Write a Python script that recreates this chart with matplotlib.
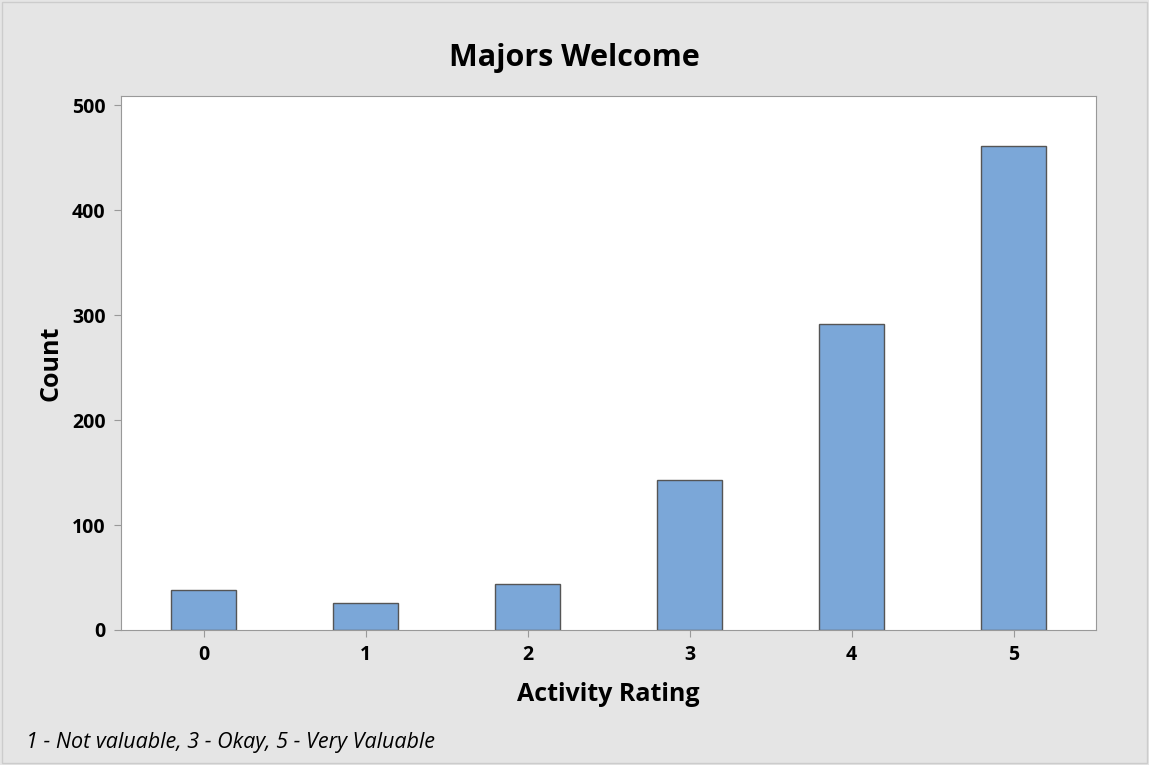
import matplotlib
matplotlib.use("Agg")
import matplotlib.pyplot as plt

# Activity rating counts
ratings = [0, 1, 2, 3, 4, 5]
counts = [38, 26, 44, 143, 292, 461]
yticks = [0, 100, 200, 300, 400, 500]

plt.rcParams['font.family'] = ['Open Sans', 'DejaVu Sans']

fig = plt.figure(figsize=(11.49, 7.65), dpi=100, facecolor='#e5e5e5')
ax = fig.add_axes([0.1053, 0.1765, 0.8487, 0.698])
ax.set_facecolor('white')

ax.bar(ratings, counts, width=0.4, color='#7ba7d8', edgecolor='#555555', linewidth=1.0, zorder=2)

ax.set_xlim(-0.51, 5.51)
ax.set_ylim(0, 509)
ax.set_xticks(ratings)
ax.set_yticks(yticks)
ax.tick_params(axis='both', colors='#999999', labelcolor='black', labelsize=14, length=5, pad=6)
for lab in ax.get_xticklabels() + ax.get_yticklabels():
    lab.set_fontweight('bold')
for s in ax.spines.values():
    s.set_color('#999999')

ax.set_xlabel('Activity Rating', fontsize=18, fontweight='bold', labelpad=12)
ax.set_ylabel('Count', fontsize=18, fontweight='bold', labelpad=6)
fig.text(0.5, 0.924, 'Majors Welcome', fontsize=22, fontweight='bold', ha='center', va='center')

fig.text(0.023, 0.022, '1 - Not valuable, 3 - Okay, 5 - Very Valuable', fontsize=15.5, style='italic')

fig.patches.append(plt.Rectangle((0.002, 0.002), 0.996, 0.996, transform=fig.transFigure,
                                 fill=False, edgecolor='#cccccc', linewidth=1))

fig.savefig('out.png', dpi=100, facecolor=fig.get_facecolor())
